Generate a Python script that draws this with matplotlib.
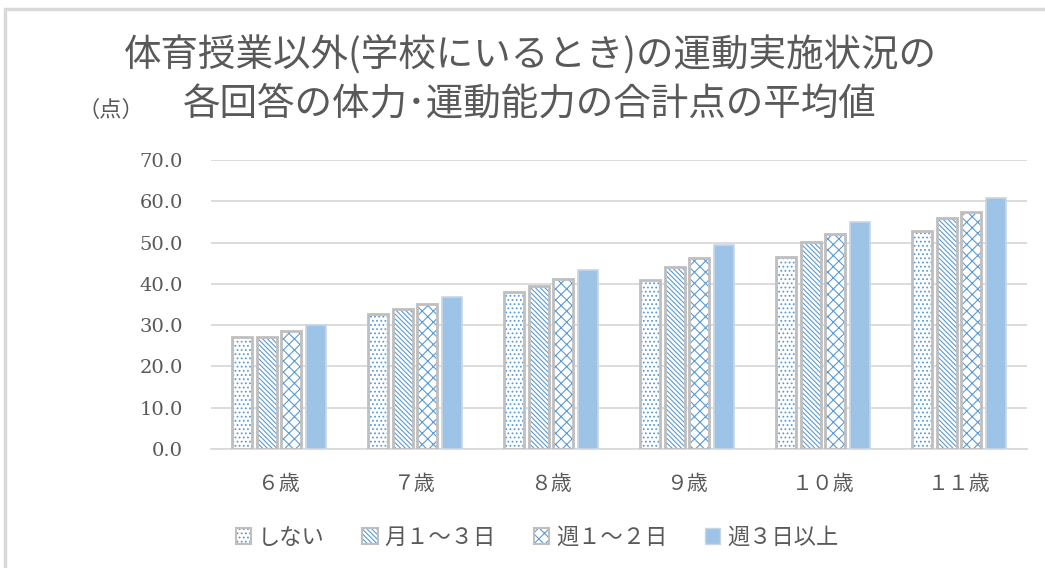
import matplotlib

matplotlib.use('Agg')
import matplotlib.pyplot as plt
from matplotlib.patches import Patch, Rectangle
import numpy as np

# data
ages = ['６歳', '７歳', '８歳', '９歳', '１０歳', '１１歳']
series_names = ['しない', '月１～３日', '週１～２日', '週３日以上']
none_vals = [27.1, 32.7, 38.0, 40.9, 46.5, 52.8]
monthly_vals = [27.1, 34.0, 39.5, 44.0, 50.2, 55.9]
weekly12_vals = [28.7, 35.2, 41.2, 46.2, 52.1, 57.5]
weekly3_vals = [30.0, 36.9, 43.4, 49.3, 55.0, 60.7]
y_ticks = [0, 10, 20, 30, 40, 50, 60, 70]

title_1 = '体育授業以外(学校にいるとき)の運動実施状況の'
title_2 = '各回答の体力･運動能力の合計点の平均値'
unit_label = '（点）'

cjk = ['Noto Sans CJK JP', 'DejaVu Sans']
plt.rcParams['font.family'] = cjk
plt.rcParams['hatch.linewidth'] = 0.8

text_grey = '#595959'
grid_grey = '#D9D9D9'
border_grey = '#BFBFBF'
hatch_blue = '#5B9BD5'
solid_blue = '#9DC3E6'

W, H = 1045, 568
fig = plt.figure(figsize=(W / 100, H / 100), dpi=100)
ax = fig.add_axes([211 / W, 1 - 449 / H, 816 / W, 289 / H])

x = np.arange(len(ages))
width = 0.147
pitch = 0.18
offsets = (np.arange(4) - 1.5) * pitch

all_vals = [none_vals, monthly_vals, weekly12_vals, weekly3_vals]
hatches = ['....', '\\' * 7, 'xxx', None]
handles = []
for vals, off, h in zip(all_vals, offsets, hatches):
    if h is None:
        ax.bar(x + off, vals, width, color=solid_blue, edgecolor='#C9D6E3',
               linewidth=1.2, zorder=3)
        handles.append(Patch(facecolor=solid_blue, edgecolor='#C9D6E3'))
    else:
        ax.bar(x + off, vals, width, color='white', edgecolor=hatch_blue,
               hatch=h, linewidth=0, zorder=3)
        ax.bar(x + off, vals, width, fill=False, edgecolor=border_grey,
               linewidth=2.0, zorder=4)
        handles.append((Patch(facecolor='white', edgecolor=hatch_blue, hatch=h, linewidth=0),
                        Patch(fill=False, edgecolor=border_grey, linewidth=1.5)))

ax.set_xlim(-0.5, len(ages) - 0.5)
ax.set_ylim(0, 70)
ax.set_yticks(y_ticks)
ax.set_yticklabels([f'{v:.1f}' for v in y_ticks], family='DejaVu Serif',
                   fontsize=14, color=text_grey)
ax.set_xticks(x)
ax.set_xticklabels(ages, fontsize=15, color=text_grey)
ax.tick_params(axis='y', length=0, pad=20)
ax.tick_params(axis='x', length=0, pad=17)
ax.yaxis.grid(True, color=grid_grey, linewidth=1.3, zorder=0)
ax.set_axisbelow(True)
for side in ['top', 'right', 'left']:
    ax.spines[side].set_visible(False)
ax.spines['bottom'].set_color(grid_grey)
ax.spines['bottom'].set_linewidth(1.3)

fig.text(530 / W, 1 - 56 / H, title_1, ha='center', va='center',
         fontsize=27, color=text_grey)
fig.text(530 / W, 1 - 104 / H, title_2, ha='center', va='center',
         fontsize=27, color=text_grey)
fig.text(111 / W, 1 - 110 / H, unit_label, ha='center', va='center',
         fontsize=16, color=text_grey)

leg = fig.legend(handles, series_names, loc='center', bbox_to_anchor=(537 / W, 1 - 537 / H),
                 ncol=4, frameon=False, fontsize=16, handlelength=0.7, handleheight=0.7,
                 handletextpad=0.3, columnspacing=1.7)
for t in leg.get_texts():
    t.set_color(text_grey)

# light frame around the chart area
fig.patches.append(Rectangle((5 / W, -0.1), 1.2, 1.1 - 9 / H, transform=fig.transFigure,
                             fill=False, edgecolor=grid_grey, linewidth=2.5, clip_on=False))

fig.savefig('out.png', dpi=100)
